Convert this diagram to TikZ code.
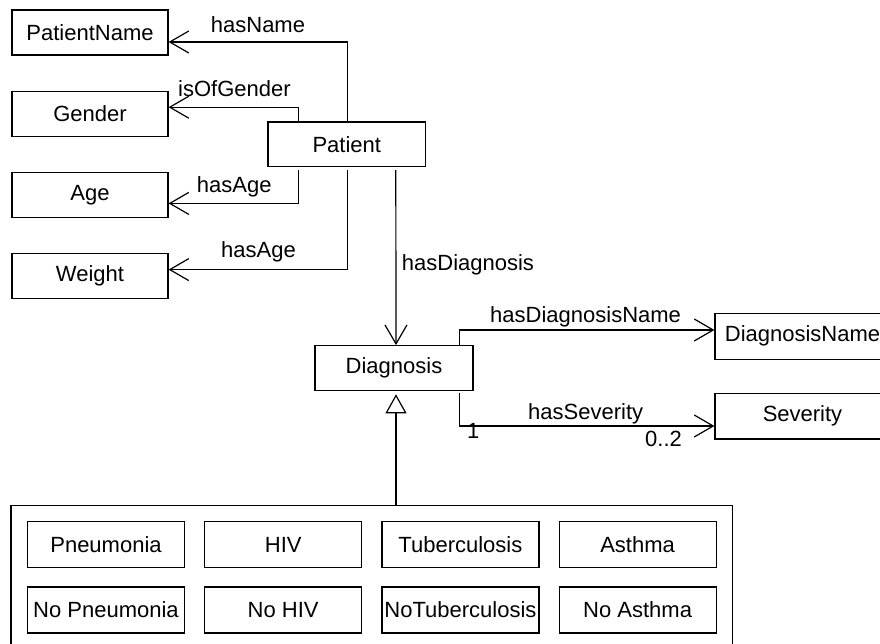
\documentclass[tikz,border=0pt]{standalone}
\usepackage{fontspec}
\setmainfont{Liberation Sans}
\usetikzlibrary{arrows.meta,positioning,fit}
\tikzset{
  cls/.style={rectangle, draw, line width=1.2pt, minimum width=157pt, minimum height=45pt,
              inner sep=0pt, align=center, font=\fontsize{22}{26}\selectfont},
  subcls/.style={cls, minimum height=46pt},
  assoc/.style={line width=1.2pt, -{Straight Barb[length=19pt, width=22pt]}},
  inherit/.style={line width=1.2pt, -{Triangle[open, length=19pt, width=21pt]}},
  rolelbl/.style={anchor=base west, inner sep=0pt, font=\fontsize{22}{26}\selectfont},
}
\begin{document}
\begin{tikzpicture}[x=1pt, y=-1pt, node distance=35pt]
\useasboundingbox (0,0) rectangle (880,644);
\clip (0,0) rectangle (880,644);
% patient and its attributes
\node[cls, minimum width=156pt] (pname) at (90,32.5) {PatientName};
\node[cls, minimum width=156pt, below=of pname] (gender) {Gender};
\node[cls, minimum width=156pt, below=of gender] (age) {Age};
\node[cls, minimum width=156pt, below=of age] (weight) {Weight};
\node[cls, minimum width=157.7pt, minimum height=44.5pt] (patient) at (346.8,144.2) {Patient};
% diagnosis
\node[cls, minimum width=158pt] (diag) at (394,368.2) {Diagnosis};
\node[cls, minimum width=175pt, minimum height=46pt] (dname) at (802.5,336.3) {DiagnosisName};
\node[cls, minimum width=175pt, minimum height=45.7pt] (sev) at (802.5,416.2) {Severity};
% subclasses
\node[subcls] (pneu) at (106,544.7) {Pneumonia};
\node[subcls, right=19pt of pneu] (hiv) {HIV};
\node[subcls, right=19pt of hiv] (tb) {Tuberculosis};
\node[subcls, right=19pt of tb] (asth) {Asthma};
\node[subcls, below=18pt of pneu] (nopneu) {No Pneumonia};
\node[subcls, below=18pt of hiv] (nohiv) {No HIV};
\node[subcls, below=18pt of tb] (notb) {NoTuberculosis};
\node[subcls, below=18pt of asth] (noasth) {No Asthma};
\node[draw, line width=1.2pt, inner sep=16pt, fit=(pneu)(noasth)] (group) {};
% connectors
\draw[assoc] ([xshift=1pt]patient.north) |- ([yshift=-9.5pt]pname.east);
\draw[assoc] ([xshift=-48pt]patient.north) |- ([yshift=6.5pt]gender.east);
\draw[assoc, shorten <=3pt] ([xshift=-48pt]patient.south) |- ([yshift=-8.5pt]age.east);
\draw[assoc, shorten <=3pt] ([xshift=0.5pt]patient.south) |- ([yshift=6.5pt]weight.east);
\draw[assoc, shorten <=3pt] ([xshift=49pt]patient.south) -- ([xshift=2pt]diag.north);
\draw[assoc] ([xshift=-14pt]diag.north east) |- ([yshift=6.3pt]dname.west);
\draw[assoc, shorten <=2pt] ([xshift=-14pt]diag.south east) |- ([yshift=-9.8pt]sev.west);
\draw[inherit, shorten >=3pt] ([xshift=2pt]group.north -| diag.south) -- ([xshift=2pt]diag.south);
% role names
\node[rolelbl] (lname) at (210.7,33) {hasName};
\node[rolelbl] (lgender) at (178,97) {isOfGender};
\node[rolelbl] (lage) at (196.7,193) {hasAge};
\node[rolelbl] (lweight) at (221,258) {hasAge};
\node[rolelbl] (ldiag) at (401.7,270) {hasDiagnosis};
\node[rolelbl] (ldname) at (490,322) {hasDiagnosisName};
\node[rolelbl] (lsev) at (528,419) {hasSeverity};
\node[rolelbl] (mone) at (467,438) {1};
\node[rolelbl] (mmany) at (645,446.7) {0..2};
\end{tikzpicture}
\end{document}
